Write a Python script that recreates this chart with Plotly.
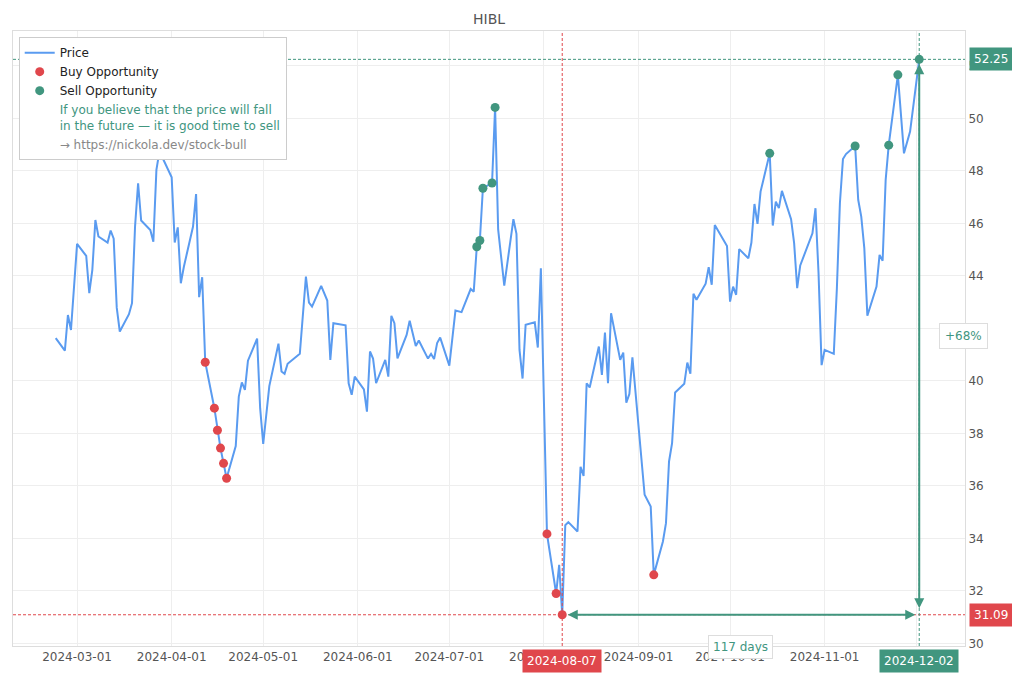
import plotly.graph_objects as go

TICKER = "HIBL"
GREEN = "#41967f"
RED = "#e0474c"
BLUE = "#5a9bf0"

dates = [
    "2024-02-23", "2024-02-26", "2024-02-27", "2024-02-28", "2024-03-01",
    "2024-03-04", "2024-03-05", "2024-03-06", "2024-03-07", "2024-03-08",
    "2024-03-11", "2024-03-12", "2024-03-13", "2024-03-14", "2024-03-15",
    "2024-03-18", "2024-03-19", "2024-03-20", "2024-03-21", "2024-03-22",
    "2024-03-25", "2024-03-26", "2024-03-27", "2024-03-28",
    "2024-04-01", "2024-04-02", "2024-04-03", "2024-04-04", "2024-04-05",
    "2024-04-08", "2024-04-09", "2024-04-10", "2024-04-11", "2024-04-12",
    "2024-04-15", "2024-04-16", "2024-04-17", "2024-04-18", "2024-04-19",
    "2024-04-22", "2024-04-23", "2024-04-24", "2024-04-25", "2024-04-26",
    "2024-04-29", "2024-04-30", "2024-05-01", "2024-05-03",
    "2024-05-06", "2024-05-07", "2024-05-08", "2024-05-09", "2024-05-13",
    "2024-05-15", "2024-05-16", "2024-05-17", "2024-05-20", "2024-05-22",
    "2024-05-23", "2024-05-24", "2024-05-28", "2024-05-29", "2024-05-30", "2024-05-31",
    "2024-06-03", "2024-06-04", "2024-06-05", "2024-06-06", "2024-06-07",
    "2024-06-10", "2024-06-11", "2024-06-12", "2024-06-13", "2024-06-14",
    "2024-06-17", "2024-06-18", "2024-06-20", "2024-06-21",
    "2024-06-24", "2024-06-25", "2024-06-26", "2024-06-27", "2024-06-28",
    "2024-07-01", "2024-07-02", "2024-07-03", "2024-07-05",
    "2024-07-08", "2024-07-09", "2024-07-10", "2024-07-11", "2024-07-12",
    "2024-07-15", "2024-07-16", "2024-07-17", "2024-07-19",
    "2024-07-22", "2024-07-23", "2024-07-24", "2024-07-25", "2024-07-26",
    "2024-07-29", "2024-07-30", "2024-07-31", "2024-08-02",
    "2024-08-05", "2024-08-06", "2024-08-07", "2024-08-08", "2024-08-09",
    "2024-08-12", "2024-08-13", "2024-08-14", "2024-08-15", "2024-08-16",
    "2024-08-19", "2024-08-20", "2024-08-21", "2024-08-22", "2024-08-23",
    "2024-08-26", "2024-08-27", "2024-08-28", "2024-08-29", "2024-08-30",
    "2024-09-03", "2024-09-05", "2024-09-06",
    "2024-09-09", "2024-09-10", "2024-09-11", "2024-09-12", "2024-09-13",
    "2024-09-16", "2024-09-17", "2024-09-18", "2024-09-19", "2024-09-20",
    "2024-09-23", "2024-09-24", "2024-09-25", "2024-09-26", "2024-09-30",
    "2024-10-01", "2024-10-02", "2024-10-03", "2024-10-04",
    "2024-10-07", "2024-10-08", "2024-10-09", "2024-10-10", "2024-10-11",
    "2024-10-14", "2024-10-15", "2024-10-16", "2024-10-17", "2024-10-18",
    "2024-10-21", "2024-10-22", "2024-10-23", "2024-10-24",
    "2024-10-28", "2024-10-29", "2024-10-30", "2024-10-31", "2024-11-01",
    "2024-11-04", "2024-11-05", "2024-11-06", "2024-11-07", "2024-11-08",
    "2024-11-11", "2024-11-12", "2024-11-13", "2024-11-14", "2024-11-15",
    "2024-11-18", "2024-11-19", "2024-11-20", "2024-11-21", "2024-11-22",
    "2024-11-25", "2024-11-27", "2024-11-29", "2024-12-02",
]

prices = [
    41.63, 41.15, 42.51, 41.94, 45.22,
    44.76, 43.34, 44.23, 46.13, 45.50,
    45.27, 45.73, 45.42, 42.79, 41.88,
    42.54, 42.96, 45.88, 47.53, 46.11,
    45.75, 45.30, 48.04, 48.75,
    47.76, 45.27, 45.85, 43.72, 44.35,
    45.88, 47.12, 43.19, 43.95, 40.71,
    38.96, 38.12, 37.44, 36.86, 36.29,
    37.52, 39.40, 39.94, 39.66, 40.77,
    41.61, 38.96, 37.60, 39.80,
    41.42, 40.36, 40.27, 40.65, 41.03,
    43.97, 42.98, 42.83, 43.62, 43.06,
    40.80, 42.20, 42.12, 39.91, 39.47, 40.16,
    39.68, 38.83, 41.12, 40.85, 39.91,
    40.80, 40.16, 42.48, 42.20, 40.86,
    41.75, 42.29, 41.33, 41.54,
    40.85, 41.03, 40.83, 41.44, 41.65,
    40.58, 41.70, 42.68, 42.62,
    43.50, 43.40, 45.11, 45.35, 47.34,
    47.54, 50.42, 45.77, 43.63,
    46.16, 45.60, 41.18, 40.09, 42.14,
    42.23, 41.27, 44.29, 34.17,
    31.90, 32.99, 31.09, 34.50, 34.62,
    34.26, 36.73, 36.38, 39.91, 39.75,
    41.31, 40.23, 41.84, 39.91, 42.58,
    40.80, 41.08, 39.17, 39.50, 40.90,
    35.66, 35.21, 32.61,
    33.88, 34.58, 36.93, 37.63, 39.56,
    39.89, 40.70, 40.27, 43.32, 43.09,
    43.70, 44.33, 43.66, 45.94, 45.14,
    43.02, 43.59, 43.28, 45.02,
    44.67, 45.27, 46.74, 45.98, 47.21,
    48.67, 45.92, 46.83, 46.58, 47.24,
    46.16, 45.25, 43.53, 44.40,
    45.62, 46.58, 44.10, 40.60, 41.18,
    41.03, 43.50, 46.77, 48.45, 48.64,
    48.95, 46.90, 46.26, 45.06, 42.48,
    43.59, 44.80, 44.58, 47.66, 48.98,
    51.66, 48.67, 49.50, 52.25,
]

buy_dates = [
    "2024-04-12", "2024-04-15", "2024-04-16", "2024-04-17", "2024-04-18",
    "2024-04-19", "2024-08-02", "2024-08-05", "2024-08-07", "2024-09-06",
]
sell_dates = [
    "2024-07-10", "2024-07-11", "2024-07-12", "2024-07-15", "2024-07-16",
    "2024-10-14", "2024-11-11", "2024-11-22", "2024-11-25", "2024-12-02",
]

low_date, low_price = "2024-08-07", 31.09
high_date, high_price = "2024-12-02", 52.25
gain_text = "+68%"
days_text = "117 days"
mid_date = "2024-10-04 12:00"

price_by_date = dict(zip(dates, prices))

fig = go.Figure()
fig.add_trace(go.Scatter(
    x=dates, y=prices, mode="lines", name="Price",
    line=dict(color=BLUE, width=2),
))
fig.add_trace(go.Scatter(
    x=buy_dates, y=[price_by_date[d] for d in buy_dates], mode="markers",
    name="Buy Opportunity", marker=dict(color=RED, size=9),
))
fig.add_trace(go.Scatter(
    x=sell_dates, y=[price_by_date[d] for d in sell_dates], mode="markers",
    name="Sell Opportunity", marker=dict(color=GREEN, size=9),
))
fig.add_trace(go.Scatter(
    x=[None], y=[None], mode="none",
    name=f'<span style="color:{GREEN}">If you believe that the price will fall<br>'
         f'in the future — it is good time to sell</span>',
))
fig.add_trace(go.Scatter(
    x=[None], y=[None], mode="none",
    name='<span style="color:#888">→ https://nickola.dev/stock-bull</span>',
))

# guide lines at the low / high
dash = "3px,2px"
fig.add_shape(type="line", xref="paper", x0=0, x1=1, y0=high_price, y1=high_price,
              line=dict(color=GREEN, width=1, dash=dash))
fig.add_shape(type="line", xref="paper", x0=0, x1=1, y0=low_price, y1=low_price,
              line=dict(color=RED, width=1, dash=dash))
fig.add_shape(type="line", yref="paper", y0=0, y1=1, x0=low_date, x1=low_date,
              line=dict(color=RED, width=1, dash=dash))
fig.add_shape(type="line", yref="paper", y0=0, y1=1, x0=high_date, x1=high_date,
              line=dict(color=GREEN, width=1, dash=dash))

# arrows
fig.add_annotation(x=high_date, y=low_price, ax=low_date, ay=low_price,
                   xref="x", yref="y", axref="x", ayref="y", text="",
                   showarrow=True, arrowside="end+start", arrowhead=2, startarrowhead=2,
                   arrowsize=1, startarrowsize=1, arrowwidth=2, arrowcolor=GREEN,
                   standoff=4, startstandoff=4)
fig.add_annotation(x=high_date, y=high_price, ax=high_date, ay=low_price,
                   xref="x", yref="y", axref="x", ayref="y", text="",
                   showarrow=True, arrowside="end+start", arrowhead=2, startarrowhead=2,
                   arrowsize=1, startarrowsize=1, arrowwidth=2, arrowcolor=GREEN,
                   standoff=5, startstandoff=5)

box = dict(showarrow=False, font=dict(size=12, color="white"), borderpad=4)
fig.add_annotation(text=f"{high_price:.2f}", xref="paper", x=1, y=high_price,
                   xanchor="left", xshift=4, bgcolor=GREEN, **box)
fig.add_annotation(text=f"{low_price:.2f}", xref="paper", x=1, y=low_price,
                   xanchor="left", xshift=4, bgcolor=RED, **box)
fig.add_annotation(text=low_date, x=low_date, yref="paper", y=0,
                   yanchor="top", yshift=-3, bgcolor=RED, **box)
fig.add_annotation(text=high_date, x=high_date, yref="paper", y=0,
                   yanchor="top", yshift=-3, bgcolor=GREEN, **box)

fig.add_annotation(text=gain_text, x=high_date, y=(low_price + high_price) / 2,
                   xshift=44, yshift=1, showarrow=False, font=dict(size=12, color=GREEN),
                   bgcolor="white", bordercolor="#ddd", borderwidth=1, borderpad=5)
fig.add_annotation(text=days_text, x=mid_date, y=low_price, yshift=-32,
                   showarrow=False, font=dict(size=12, color=GREEN),
                   bgcolor="white", bordercolor="#ddd", borderwidth=1, borderpad=4)

# the page body adds an 8px offset, so the figure is 8px smaller than the window
fig.update_layout(
    width=1012, height=672,
    margin=dict(l=5, r=55, t=23, b=34),
    paper_bgcolor="white", plot_bgcolor="white",
    font=dict(family="DejaVu Sans", size=12, color="#444"),
    title=dict(text=TICKER, x=0.5, xref="paper", y=0.984, yanchor="middle",
               font=dict(size=14, color="#555")),
    showlegend=True,
    legend=dict(x=0.006, y=0.99, xanchor="left", yanchor="top",
                bgcolor="white", bordercolor="#ccc", borderwidth=1,
                font=dict(size=12, color="#222")),
    xaxis=dict(type="date", range=["2024-02-09", "2024-12-17"],
               tick0="2024-03-01", dtick="M1", tickformat="%Y-%m-%d",
               gridcolor="#eee", showline=True, mirror=True, linecolor="#ddd",
               tickfont=dict(color="#555")),
    yaxis=dict(side="right", range=[29.9, 53.33], dtick=2,
               gridcolor="#eee", zeroline=False, showline=True, mirror=True,
               linecolor="#ddd", tickfont=dict(color="#555")),
)

fig.write_html("out.html")
